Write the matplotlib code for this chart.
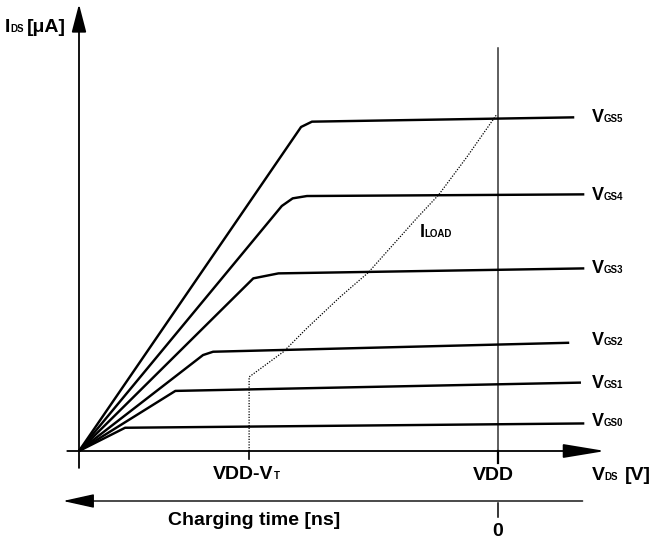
import matplotlib
matplotlib.use("Agg")
import matplotlib.pyplot as plt
from matplotlib.transforms import Affine2D

plt.rcParams["font.family"] = ["Liberation Sans", "DejaVu Sans"]

# Supply voltage and the threshold-reduced level (V)
VDD = 5.0
VDD_VT = 2.03

# Output characteristics: drain-source voltage (V) vs drain current (uA)
vgs0_vds = [0, 0.55, 6.03]
vgs0_ids = [0, 7.0, 8.3]
vgs1_vds = [0, 1.15, 5.99]
vgs1_ids = [0, 18.1, 20.6]
vgs2_vds = [0, 1.48, 1.60, 5.85]
vgs2_ids = [0, 28.9, 29.9, 32.6]
vgs3_vds = [0, 2.08, 2.38, 6.03]
vgs3_ids = [0, 52.0, 53.5, 55.0]
vgs4_vds = [0, 2.42, 2.55, 2.72, 6.03]
vgs4_ids = [0, 73.8, 76.1, 76.8, 77.3]
vgs5_vds = [0, 2.65, 2.78, 5.91]
vgs5_ids = [0, 97.6, 99.2, 100.5]

vgs_curves = [
    (vgs0_vds, vgs0_ids), (vgs1_vds, vgs1_ids), (vgs2_vds, vgs2_ids),
    (vgs3_vds, vgs3_ids), (vgs4_vds, vgs4_ids), (vgs5_vds, vgs5_ids),
]
vgs_names = ["GS0", "GS1", "GS2", "GS3", "GS4", "GS5"]

# Load current curve starting at VDD - VT
load_vds = [2.03, 2.44, 2.72, 3.12, 3.45, 4.03, 4.29, 4.63, 4.98]
load_ids = [22.3, 29.9, 37.0, 46.5, 53.7, 70.1, 77.1, 88.6, 101.2]

W, H = 651, 542
fig = plt.figure(figsize=(W / 100, H / 100), dpi=100)
ax = fig.add_axes([0, 0, 1, 1])
ox, oy = 79, 451          # origin in pixels
sx, sy = 83.8, 3.32       # pixels per volt / per uA
ax.set_xlim(-ox / sx, (W - ox) / sx)
ax.set_ylim(-(H - oy) / sy, oy / sy)
ax.axis("off")

# pixel coordinates measured from the top-left corner (for text)
pix = Affine2D().scale(1, -1).translate(0, H)
renderer = fig.canvas.get_renderer()


def label(x, y, parts):
    for s, size in parts:
        t = ax.text(x, y, s, transform=pix, fontsize=size, fontweight="bold",
                    ha="left", va="baseline", color="black")
        x = t.get_window_extent(renderer).x1


def arrow(tail, tip, hl, hw, lw):
    ax.annotate("", xy=tip, xytext=tail,
                arrowprops=dict(arrowstyle=f"-|>,head_length={hl},head_width={hw}",
                                mutation_scale=1, lw=lw, color="black",
                                shrinkA=0, shrinkB=0))


# axes
arrow((0, -5.1), (0, 134.6), 17.3, 4.5, 1.3)
arrow((-0.14, 0), (6.28, 0), 26, 4.3, 1.3)

# VDD marker
ax.plot([VDD, VDD], [-3.6, 121.5], color="#333333", lw=1.1)
ax.plot([VDD, VDD], [0, -3.6], color="black", lw=1.6)
ax.plot([VDD_VT, VDD_VT], [0, -2.4], color="black", lw=1.2)

# transistor curves
for vds, ids in vgs_curves:
    ax.plot(vds, ids, color="black", lw=1.75, solid_joinstyle="round",
            solid_capstyle="butt")

# load current (dotted), dropping down to VDD - VT
ax.plot([VDD_VT] + load_vds, [0] + load_ids, color="black", lw=0.9,
        linestyle=(0, (1, 1.2)))

# charging time axis
arrow((6.01, -15.06), (-0.19, -15.06), 19.4, 4.3, 1.0)
ax.plot([VDD, VDD], [-15.66, -19.9], color="black", lw=1.1)

# text
label(5, 32.3, [("I", 14), ("DS", 7)])
ax.text(26.7, 32.3, "[μA]", transform=pix, fontsize=14, fontweight="bold",
        ha="left", va="baseline")
label(213.3, 479, [("VDD-V", 14), ("T", 7)])
ax.text(493.5, 480, "VDD", transform=pix, fontsize=14, fontweight="bold",
        ha="center", va="baseline")
label(591.7, 480, [("V", 14), ("DS", 7)])
ax.text(625, 480, "[V]", transform=pix, fontsize=14, fontweight="bold",
        ha="left", va="baseline")
ax.text(168, 525, "Charging time [ns]", transform=pix, fontsize=14,
        fontweight="bold", ha="left", va="baseline")
ax.text(498, 536, "0", transform=pix, fontsize=14, fontweight="bold",
        ha="center", va="baseline")
label(419.3, 237.3, [("I", 13), ("LOAD", 7)])

vgs_baselines = [426, 388.3, 345, 273.3, 200, 121.7]
for name, base in zip(vgs_names, vgs_baselines):
    label(592, base, [("V", 13), (name, 7)])

fig.savefig("out.png", dpi=100)
